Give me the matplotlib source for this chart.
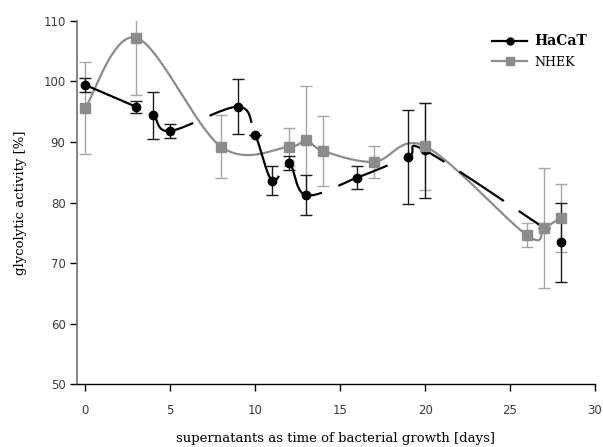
import numpy as np
import matplotlib
matplotlib.use("Agg")
import matplotlib.pyplot as plt
from matplotlib.lines import Line2D

# ---- data ----
hacat_days = [0, 3, 4, 5, 9, 10, 11, 12, 13, 16, 19, 20, 27, 28]
hacat_vals = [99.4, 95.8, 94.4, 91.8, 95.8, 91.2, 83.6, 86.5, 81.2, 84.1, 87.5, 88.6, 75.8, 73.4]
hacat_err = [1.1, 1.0, 3.9, 1.1, 4.5, 0.0, 2.4, 1.2, 3.3, 1.9, 7.8, 7.9, 0.0, 6.5]

nhek_days = [0, 3, 8, 12, 13, 14, 17, 20, 26, 27, 28]
nhek_vals = [95.6, 107.2, 89.2, 89.2, 90.3, 88.5, 86.7, 89.3, 74.6, 75.8, 77.5]
nhek_err = [7.6, 9.4, 5.2, 3.1, 8.9, 5.8, 2.6, 7.2, 2.0, 9.9, 5.6]

x_ticks = [0, 5, 10, 15, 20, 25, 30]
y_ticks = [50, 60, 70, 80, 90, 100, 110]

fig = plt.figure(figsize=(6.03, 4.47), dpi=100)
ax = fig.add_axes([76.7/603, 1-384.3/447, (595-76.7)/603, (384.3-20.7)/447])
ax.set_xlim(-0.5, 30)
ax.set_ylim(50, 110)
fig.canvas.draw()


def smooth(ax, xs, ys, n=40):
    """Excel-like smoothed line (Catmull-Rom in display space)."""
    P = ax.transData.transform(np.column_stack([xs, ys]))
    pts = []
    m = len(P)
    for i in range(m - 1):
        p0 = P[i - 1] if i > 0 else P[i]
        p1 = P[i]
        p2 = P[i + 1]
        p3 = P[i + 2] if i + 2 < m else P[i + 1]
        c1 = p1 + (p2 - p0) / 6.0
        c2 = p2 - (p3 - p1) / 6.0
        t = np.linspace(0, 1, n)[:, None]
        seg = ((1 - t) ** 3) * p1 + 3 * ((1 - t) ** 2) * t * c1 + 3 * (1 - t) * t ** 2 * c2 + t ** 3 * p2
        pts.append(seg if i == 0 else seg[1:])
    pts = np.vstack(pts)
    return ax.transData.inverted().transform(pts)


gray = '#8c8c8c'
gray_err = '#a6a6a6'

# NHEK
c = smooth(ax, nhek_days, nhek_vals)
ax.plot(c[:, 0], c[:, 1], color=gray, lw=1.6, zorder=2, solid_capstyle='butt')
ax.errorbar(nhek_days, nhek_vals, yerr=nhek_err, fmt='none', ecolor=gray_err,
            elinewidth=1.0, capsize=4.5, capthick=1.0, zorder=2)

# HaCaT
c = smooth(ax, hacat_days[:-1], hacat_vals[:-1])
ax.plot(c[:, 0], c[:, 1], color='black', lw=1.6, zorder=3,
        dashes=(24, 8), dash_capstyle='butt')
ax.errorbar(hacat_days, hacat_vals, yerr=hacat_err, fmt='none', ecolor='#1a1a1a',
            elinewidth=1.0, capsize=4.5, capthick=1.0, zorder=3)
ax.plot(hacat_days, hacat_vals, 'o', color='black', ms=6, zorder=4)
ax.plot(nhek_days, nhek_vals, 's', color=gray, ms=6.5, zorder=5)

# axes styling
for s in ['top', 'right']:
    ax.spines[s].set_visible(False)
ax.spines['left'].set_color('#707070')
ax.spines['left'].set_linewidth(1.2)
ax.spines['bottom'].set_color('black')
ax.spines['bottom'].set_linewidth(1.0)
ax.set_xticks(x_ticks)
ax.set_yticks(y_ticks)
ax.tick_params(axis='both', direction='out', length=5, width=1.0,
               labelsize=8.5, labelcolor='#3a3a3a', pad=9)
ax.tick_params(axis='y', pad=3)
for lab in ax.get_xticklabels() + ax.get_yticklabels():
    lab.set_family('DejaVu Sans')

ax.set_xlabel('supernatants as time of bacterial growth [days]', family='DejaVu Serif',
              fontsize=9.5, labelpad=11)
ax.set_ylabel('glycolytic activity [%]', family='DejaVu Serif', fontsize=9.5, labelpad=12)

handles = [Line2D([], [], color='black', lw=1.6, marker='o', ms=5),
           Line2D([], [], color=gray, lw=1.6, marker='s', ms=6)]
leg = fig.legend(handles, ['HaCaT', 'NHEK'], loc='upper left',
                 bbox_to_anchor=(481/603, 1-23/447), frameon=False,
                 prop={'family': 'DejaVu Serif', 'size': 9},
                 handlelength=2.8, handletextpad=0.6, labelspacing=0.6)
leg.get_texts()[0].set_fontsize(10)
leg.get_texts()[0].set_fontweight('bold')

fig.savefig('out.png', dpi=100)
